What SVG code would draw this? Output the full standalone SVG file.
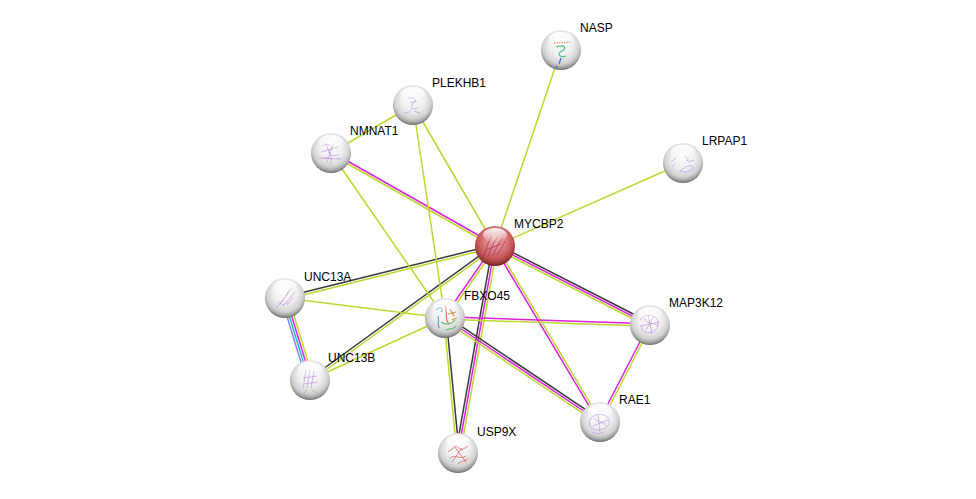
<svg xmlns="http://www.w3.org/2000/svg" width="976" height="499" viewBox="0 0 976 499">
<defs>
<radialGradient id="gw" cx="50%" cy="42%" r="58%" fx="50%" fy="28%">
<stop offset="0" stop-color="#ffffff"/>
<stop offset="0.5" stop-color="#f0f0f0"/>
<stop offset="0.78" stop-color="#d2d2d2"/>
<stop offset="0.9" stop-color="#a9a9a9"/>
<stop offset="1" stop-color="#6e6e6e"/>
</radialGradient>
<radialGradient id="gr" cx="50%" cy="42%" r="58%" fx="50%" fy="28%">
<stop offset="0" stop-color="#f2bcbc"/>
<stop offset="0.5" stop-color="#d87c7c"/>
<stop offset="0.78" stop-color="#c05252"/>
<stop offset="0.9" stop-color="#a03a3a"/>
<stop offset="1" stop-color="#6e1c1c"/>
</radialGradient>
<linearGradient id="gh" x1="0" y1="0" x2="0" y2="1">
<stop offset="0" stop-color="#ffffff" stop-opacity="0.95"/>
<stop offset="1" stop-color="#ffffff" stop-opacity="0"/>
</linearGradient>
</defs>
<style>
.tm{stroke:#bfd62e;stroke-width:1.5;fill:none}
.ex{stroke:#dd22dd;stroke-width:1.5;fill:none}
.co{stroke:#3a3a3a;stroke-width:1.5;fill:none}
.db{stroke:#2eb6d6;stroke-width:1.5;fill:none}
.oc{stroke:#8484ff;stroke-width:1.5;fill:none}
.ball{fill:url(#gw)}
.red{fill:url(#gr)}
.hl{fill:url(#gh)}
.pr{fill:none;stroke:#b68ad8;stroke-width:0.7;opacity:0.85}
text{font-family:"Liberation Sans",Arial,sans-serif;font-size:12px;fill:#000}
</style>
<rect width="976" height="499" fill="#ffffff"/>
<g id="edges">
<line class="tm" x1="495" y1="246" x2="561" y2="50"/>
<line class="tm" x1="495" y1="246" x2="683" y2="163"/>
<line class="tm" x1="495" y1="246" x2="413" y2="105"/>
<line class="ex" x1="495.6" y1="245" x2="331.6" y2="152"/>
<line class="tm" x1="494.4" y1="247" x2="330.4" y2="154"/>
<line class="co" x1="494.7" y1="244.8" x2="285.7" y2="296.8"/>
<line class="tm" x1="495.3" y1="247.2" x2="286.3" y2="299.2"/>
<line class="co" x1="494.3" y1="245" x2="309.3" y2="379"/>
<line class="tm" x1="495.7" y1="247" x2="310.7" y2="381"/>
<line class="ex" x1="494" y1="245.3" x2="444" y2="317.3"/>
<line class="tm" x1="496" y1="246.7" x2="446" y2="318.7"/>
<line class="co" x1="492.7" y1="245.6" x2="455.7" y2="452.6"/>
<line class="ex" x1="495" y1="246" x2="458" y2="453"/>
<line class="tm" x1="497.3" y1="246.4" x2="460.3" y2="453.4"/>
<line class="ex" x1="494" y1="246.6" x2="599" y2="422.6"/>
<line class="tm" x1="496" y1="245.4" x2="601" y2="421.4"/>
<line class="co" x1="496" y1="244" x2="651" y2="323"/>
<line class="ex" x1="495" y1="246" x2="650" y2="325"/>
<line class="tm" x1="494" y1="248" x2="649" y2="327"/>
<line class="tm" x1="413" y1="105" x2="331" y2="153"/>
<line class="tm" x1="413" y1="105" x2="445" y2="318"/>
<line class="tm" x1="331" y1="153" x2="445" y2="318"/>
<line class="tm" x1="285" y1="298" x2="445" y2="318"/>
<line class="tm" x1="310" y1="380" x2="445" y2="318"/>
<line class="oc" x1="281.7" y1="299" x2="306.7" y2="381"/>
<line class="db" x1="283.9" y1="298.3" x2="308.9" y2="380.3"/>
<line class="ex" x1="286.1" y1="297.7" x2="311.1" y2="379.7"/>
<line class="tm" x1="288.3" y1="297" x2="313.3" y2="379"/>
<line class="ex" x1="445" y1="316.8" x2="650" y2="323.8"/>
<line class="tm" x1="445" y1="319.2" x2="650" y2="326.2"/>
<line class="co" x1="446.3" y1="316.1" x2="601.3" y2="420.1"/>
<line class="ex" x1="445" y1="318" x2="600" y2="422"/>
<line class="tm" x1="443.7" y1="319.9" x2="598.7" y2="423.9"/>
<line class="tm" x1="443.8" y1="318.1" x2="456.8" y2="453.1"/>
<line class="co" x1="446.2" y1="317.9" x2="459.2" y2="452.9"/>
<line class="ex" x1="648.9" y1="324.5" x2="598.9" y2="421.5"/>
<line class="tm" x1="651.1" y1="325.5" x2="601.1" y2="422.5"/>
</g>
<g id="node-MYCBP2">
<circle class="red" cx="495" cy="246" r="20"/>
<path d="M484 256 C487 246 489 240 492 236 M488 257 C491 248 494 241 498 237 M493 256 C496 248 499 242 503 238 M486 250 L501 244 M497 255 C500 250 503 246 505 241" fill="none" stroke="#b02860" stroke-width="0.9" opacity="0.8"/>
<ellipse class="hl" cx="495" cy="235" rx="12" ry="7"/>
<text x="514" y="228">MYCBP2</text>
</g>
<g id="node-NASP">
<circle class="ball" cx="561" cy="50" r="20"/>
<path d="M554 43 L570 42" fill="none" stroke="#e08040" stroke-width="1.4" stroke-dasharray="1.5 1"/>
<path d="M556 47 C564 44 568 48 562 51 C556 54 560 58 566 56" fill="none" stroke="#50c080" stroke-width="1.2"/>
<path d="M561 58 L559 64 M557 66 L556 69" fill="none" stroke="#5070d0" stroke-width="1.3"/>
<ellipse class="hl" cx="561" cy="39" rx="12" ry="7"/>
<text x="580" y="32">NASP</text>
</g>
<g id="node-PLEKHB1">
<circle class="ball" cx="413" cy="105" r="20"/>
<path class="pr" d="M408 98 C414 96 418 100 413 104 C409 108 416 111 419 107 M410 103 L417 101 M412 108 C410 113 406 114 404 112 M414 111 L420 113"/>
<ellipse class="hl" cx="413" cy="94" rx="12" ry="7"/>
<text x="432" y="87">PLEKHB1</text>
</g>
<g id="node-NMNAT1">
<circle class="ball" cx="331" cy="153" r="20"/>
<path class="pr" d="M322 146 C328 142 334 146 330 150 C326 154 334 158 339 154 M321 152 L338 147 M324 158 C330 156 334 162 329 164 M326 144 L332 160 M334 143 L327 162 M319 158 L341 159"/>
<ellipse class="hl" cx="331" cy="142" rx="12" ry="7"/>
<text x="350" y="135">NMNAT1</text>
</g>
<g id="node-LRPAP1">
<circle class="ball" cx="683" cy="163" r="20"/>
<path class="pr" d="M671 162 L676 158 M675 164 L672 167 M684 156 C688 158 690 162 686 160 M680 171 C686 166 692 164 694 168 C690 172 684 173 680 171 M688 162 L694 160"/>
<ellipse class="hl" cx="683" cy="152" rx="12" ry="7"/>
<text x="702" y="145">LRPAP1</text>
</g>
<g id="node-UNC13A">
<circle class="ball" cx="285" cy="298" r="20"/>
<path class="pr" d="M292 288 L280 304 M295 292 L283 306 M289 290 L286 296 M278 302 C282 306 286 304 288 302 M276 308 L284 300 M293 297 L287 305"/>
<ellipse class="hl" cx="285" cy="287" rx="12" ry="7"/>
<text x="304" y="281">UNC13A</text>
</g>
<g id="node-FBXO45">
<circle class="ball" cx="445" cy="318" r="20"/>
<path d="M436 310 C440 306 444 308 441 312 M438 316 C440 322 436 326 440 328" fill="none" stroke="#6aa0e0" stroke-width="1.2"/>
<path d="M445 306 C448 312 444 318 449 324 M450 309 L454 316" fill="none" stroke="#e07050" stroke-width="1.2"/>
<path d="M441 322 C446 326 452 324 455 320 M446 330 C450 328 454 330 456 326" fill="none" stroke="#60c070" stroke-width="1.2"/>
<path d="M448 314 L456 312 M452 320 L457 318" fill="none" stroke="#c0a040" stroke-width="1.2"/>
<ellipse class="hl" cx="445" cy="307" rx="12" ry="7"/>
<text x="464" y="300">FBXO45</text>
</g>
<g id="node-UNC13B">
<circle class="ball" cx="310" cy="380" r="20"/>
<path class="pr" d="M306 370 L303 388 M310 369 L307 388 M314 371 L311 388 M303 378 L317 376 M304 384 L318 382 M307 390 C304 393 302 394 306 395 M312 390 L318 394"/>
<ellipse class="hl" cx="310" cy="369" rx="12" ry="7"/>
<text x="328" y="362">UNC13B</text>
</g>
<g id="node-MAP3K12">
<circle class="ball" cx="650" cy="325" r="20"/>
<path class="pr" d="M640 320 C644 314 652 314 656 318 C660 322 658 330 652 332 C646 334 640 330 642 326 M644 318 C648 326 654 322 659 326 M646 330 L654 316 M640 326 L660 322 M648 314 L652 334"/>
<ellipse class="hl" cx="650" cy="314" rx="12" ry="7"/>
<text x="669" y="307">MAP3K12</text>
</g>
<g id="node-RAE1">
<circle class="ball" cx="600" cy="422" r="20"/>
<path class="pr" d="M590 420 C592 414 604 412 608 418 C612 424 606 430 598 430 C592 430 588 426 590 420 M594 418 C598 424 604 420 606 426 M593 426 L608 420 M598 414 L600 432 M592 432 C596 434 600 434 604 432"/>
<ellipse class="hl" cx="600" cy="411" rx="12" ry="7"/>
<text x="619" y="404">RAE1</text>
</g>
<g id="node-USP9X">
<circle class="ball" cx="458" cy="453" r="20"/>
<path d="M448 452 L456 446 L462 450 L468 446 M450 458 C455 454 460 460 466 456 M452 462 L462 448 M458 464 C462 460 466 462 468 458 M454 446 L466 462" fill="none" stroke="#d86060" stroke-width="0.9" opacity="0.85"/>
<ellipse class="hl" cx="458" cy="442" rx="12" ry="7"/>
<text x="477" y="436">USP9X</text>
</g>
</svg>
